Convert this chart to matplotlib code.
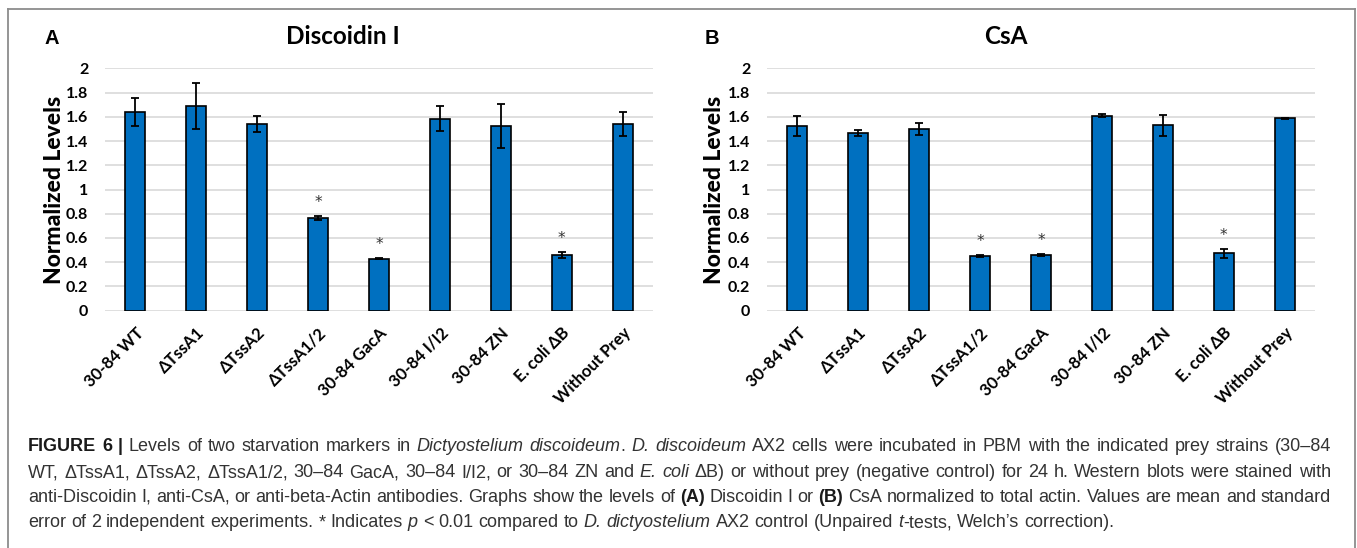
import matplotlib
matplotlib.use("Agg")
import matplotlib.pyplot as plt
from matplotlib.lines import Line2D

# data
strains = ["30-84 WT", "ΔTssA1", "ΔTssA2", "ΔTssA1/2", "30-84 GacA",
           "30-84 I/I2", "30-84 ZN", "E. coli ΔB", "Without Prey"]

discoidin_mean = [1.64, 1.69, 1.54, 0.765, 0.43, 1.585, 1.525, 0.46, 1.54]
discoidin_err = [0.115, 0.19, 0.065, 0.02, 0.005, 0.105, 0.18, 0.025, 0.098]
discoidin_sig = [False, False, False, True, True, False, False, True, False]

csa_mean = [1.525, 1.466, 1.499, 0.455, 0.46, 1.609, 1.53, 0.474, 1.587]
csa_err = [0.085, 0.022, 0.048, 0.008, 0.01, 0.012, 0.088, 0.036, 0.005]
csa_sig = [False, False, False, True, True, False, False, True, False]

y_ticks = [0, 0.2, 0.4, 0.6, 0.8, 1, 1.2, 1.4, 1.6, 1.8, 2]
y_tick_labels = ["0", "0.2", "0.4", "0.6", "0.8", "1", "1.2", "1.4", "1.6", "1.8", "2"]

W, H = 1357, 548
BAR_COLOR = "#0070C0"
CHART_FONT = "Lato"
CAP_FONT = "Liberation Sans"
CAP_COLOR = "#333333"

fig = plt.figure(figsize=(W / 100, H / 100), dpi=100)


def px_box(left, top, right, bottom):
    return [left / W, 1 - bottom / H, (right - left) / W, (bottom - top) / H]


def draw_panel(ax, means, errs, sig, label_x):
    x = list(range(len(strains)))
    ax.bar(x, means, width=0.33, color=BAR_COLOR, edgecolor="black",
           linewidth=1.2, zorder=3)
    ax.errorbar(x, means, yerr=errs, fmt="none", ecolor="black",
                elinewidth=1.3, capsize=3, capthick=1.3, zorder=4)
    for xi, m, e, s in zip(x, means, errs, sig):
        if s:
            ax.annotate("*", (xi, m + e), xytext=(0, 4), textcoords="offset points",
                        ha="center", va="bottom", fontsize=11, color="#333333",
                        family="DejaVu Sans")
    ax.set_xlim(-0.5, len(strains) - 0.5)
    ax.set_ylim(0, 2)
    ax.set_yticks(y_ticks)
    ax.set_yticklabels(y_tick_labels, fontsize=11.5, fontweight="bold", family=CHART_FONT)
    ax.set_xticks(x)
    ax.set_xticklabels(strains, rotation=45, ha="right", rotation_mode="anchor",
                       fontsize=12, fontweight="bold", family=CHART_FONT)
    ax.tick_params(axis="both", length=0)
    ax.tick_params(axis="y", pad=12)
    ax.tick_params(axis="x", pad=10)
    ax.grid(axis="y", color="#d9d9d9", linewidth=1.2, zorder=0)
    for sp in ax.spines.values():
        sp.set_visible(False)
    ax.set_ylabel("Normalized Levels", fontsize=16.5, fontweight="black",
                  family=CHART_FONT, va="center")
    ax.yaxis.set_label_coords(label_x, 0.5)


ax_a = fig.add_axes(px_box(105, 68.3, 653, 310.7))
draw_panel(ax_a, discoidin_mean, discoidin_err, discoidin_sig, (54 - 105) / 548)
ax_b = fig.add_axes(px_box(767, 68.3, 1315, 310.7))
draw_panel(ax_b, csa_mean, csa_err, csa_sig, (715 - 767) / 548)

# panel letters and titles
fig.text(52 / W, 1 - 38 / H, "A", fontsize=14.5, fontweight="bold",
         family="Liberation Sans", ha="center", va="center")
fig.text(343 / W, 1 - 37 / H, "Discoidin I", fontsize=17.5, fontweight="bold",
         family=CHART_FONT, ha="center", va="center")
fig.text(712 / W, 1 - 38 / H, "B", fontsize=14.5, fontweight="bold",
         family="Liberation Sans", ha="center", va="center")
fig.text(1006 / W, 1 - 37 / H, "CsA", fontsize=17.5, fontweight="bold",
         family=CHART_FONT, ha="center", va="center")

# frame round the figure (bottom edge is cut off in the original)
frame_kw = dict(color="#8c8c8c", linewidth=1.3, transform=fig.transFigure)
fig.add_artist(Line2D([8 / W, 8 / W], [0, 1 - 9 / H], **frame_kw))
fig.add_artist(Line2D([8 / W, 1355 / W], [1 - 9 / H, 1 - 9 / H], **frame_kw))
fig.add_artist(Line2D([1355 / W, 1355 / W], [0, 1 - 9 / H], **frame_kw))

# caption, laid out word by word so the first lines are justified
N = {}
B = {"weight": "bold", "color": "#1a1a1a"}
I = {"style": "italic"}
caption = [
    ([("FIGURE 6 |", B), (" Levels of two starvation markers in ", N),
      ("Dictyostelium discoideum", I), (". ", N), ("D. discoideum", I),
      (" AX2 cells were incubated in PBM with the indicated prey strains (30–84", N)], True),
    ([("WT, ΔTssA1, ΔTssA2, ΔTssA1/2, 30–84 GacA, 30–84 I/I2, or 30–84 ZN and ", N),
      ("E. coli", I), (" ΔB) or without prey (negative control) for 24 h. Western blots were stained with", N)], True),
    ([("anti-Discoidin I, anti-CsA, or anti-beta-Actin antibodies. Graphs show the levels of ", N),
      ("(A)", B), (" Discoidin I or ", N), ("(B)", B),
      (" CsA normalized to total actin. Values are mean and standard", N)], True),
    ([("error of 2 independent experiments. * Indicates ", N), ("p", I),
      (" < 0.01 compared to ", N), ("D. dictyostelium", I),
      (" AX2 control (Unpaired ", N), ("t", I), ("-tests, Welch’s correction).", N)], False),
]
cap_left, cap_right = 28, 1331
last_line_right = 1296
baselines = [451, 477, 502, 527]

renderer = fig.canvas.get_renderer()


def make_text(s, style, size):
    kw = {"color": CAP_COLOR}
    kw.update(style)
    return fig.text(0, 0, s, fontsize=size, family=CAP_FONT,
                    va="baseline", ha="left", **kw)


def measure(s, style, size):
    t = make_text(s, style, size)
    w = t.get_window_extent(renderer).width
    t.remove()
    return w


def split_words(parts):
    words = [[]]
    for txt, style in parts:
        for k, chunk in enumerate(txt.split(" ")):
            if k > 0:
                words.append([])
            if chunk:
                words[-1].append((chunk, style))
    return [w for w in words if w]


def natural_width(words, size):
    space = measure("x x", N, size) - measure("xx", N, size)
    total = sum(measure(c, st, size) for w in words for c, st in w)
    return total + space * (len(words) - 1)


line_words = [split_words(parts) for parts, _ in caption]
base = 12.0
cap_size = base * (last_line_right - cap_left) / natural_width(line_words[-1], base)
for words in line_words[:-1]:
    w = natural_width(words, cap_size)
    if w > cap_right - cap_left:
        cap_size *= (cap_right - cap_left) / w
space_w = measure("x x", N, cap_size) - measure("xx", N, cap_size)

for words, (_, justify), yb in zip(line_words, caption, baselines):
    built = []
    for w in words:
        pieces = []
        for chunk, style in w:
            t = make_text(chunk, style, cap_size)
            pieces.append((t, t.get_window_extent(renderer).width))
        built.append(pieces)
    total = sum(pw for pieces in built for _, pw in pieces)
    gap = (cap_right - cap_left - total) / (len(built) - 1) if justify else space_w
    x = cap_left
    for pieces in built:
        for t, pw in pieces:
            t.set_position((x / W, 1 - yb / H))
            x += pw
        x += gap

fig.savefig("out.png", dpi=100)
